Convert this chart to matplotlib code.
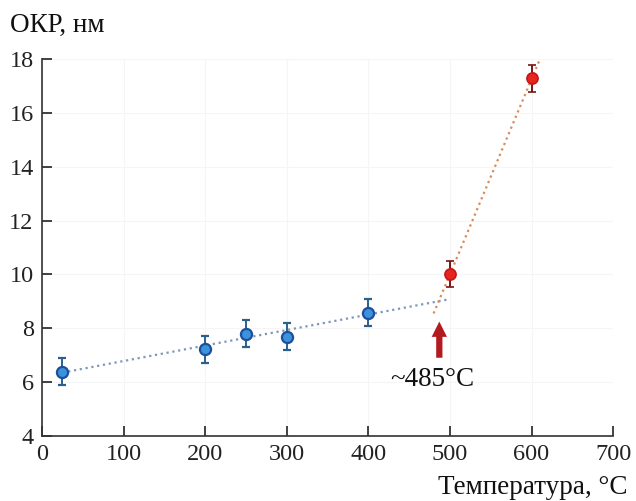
import matplotlib.pyplot as plt

plt.rcParams['font.family'] = ['Liberation Serif', 'DejaVu Serif']

# measured points
temp_low = [25, 200, 250, 300, 400]
size_low = [6.38, 7.22, 7.79, 7.68, 8.58]
err_low = [0.5, 0.5, 0.5, 0.5, 0.5]

temp_high = [500, 600]
size_high = [10.02, 17.28]
err_high = [0.48, 0.5]

# fitted trend lines (end points)
fit_low_x = [25, 496]
fit_low_y = [6.35, 9.06]
fit_high_x = [480, 611]
fit_high_y = [8.55, 18.05]

transition = 485

fig = plt.figure(figsize=(6.36, 5.01), dpi=100)
ax = fig.add_axes([0.066, 0.130, 0.898, 0.752])

ax.grid(True, color='#f5f5f5', linewidth=0.8)
ax.set_axisbelow(True)

ax.plot(fit_low_x, fit_low_y, linestyle=':', color='#7f98b8', linewidth=1.6, zorder=2)
ax.plot(fit_high_x, fit_high_y, linestyle=':', color='#d98a5a', linewidth=1.6, zorder=2)

ax.errorbar(temp_low, size_low, yerr=err_low, fmt='o', markersize=8,
            markerfacecolor='#3b93dc', markeredgecolor='#1d4f9e', markeredgewidth=1.6,
            ecolor='#2b5f8c', elinewidth=1.4, capsize=3, capthick=1.4, zorder=3)
ax.errorbar(temp_high, size_high, yerr=err_high, fmt='o', markersize=8,
            markerfacecolor='#e8241f', markeredgecolor='#c01818', markeredgewidth=1.2,
            ecolor='#7a1414', elinewidth=1.4, capsize=3, capthick=1.4, zorder=3)

ax.annotate('', xy=(transition + 2, 8.35), xytext=(transition + 2, 6.8),
            arrowprops=dict(arrowstyle='simple,head_width=1.1,head_length=1.1,tail_width=0.45',
                            color='#b21a1f', lw=0))
ax.text(transition - 6, 6.08, '~485°C', ha='center', va='center', fontsize=19.5, color='#111111')

ax.set_xlim(0, 700)
ax.set_ylim(4, 18)
ax.set_xticks(range(0, 701, 100))
ax.set_yticks(range(4, 19, 2))
ax.tick_params(direction='in', length=7, width=1.2, labelsize=17.5, pad=6, colors='#222222')
for side in ['top', 'right']:
    ax.spines[side].set_visible(False)
for side in ['left', 'bottom']:
    ax.spines[side].set_linewidth(1.2)
    ax.spines[side].set_color('#333333')

fig.text(10 / 636, 1 - 25 / 501, 'ОКР, нм', ha='left', va='center', fontsize=19.5, color='#111111')
fig.text(628 / 636, (501 - 488) / 501, 'Температура, °C', ha='right', va='center',
         fontsize=19.5, color='#111111')

fig.savefig('out.png', dpi=100)
